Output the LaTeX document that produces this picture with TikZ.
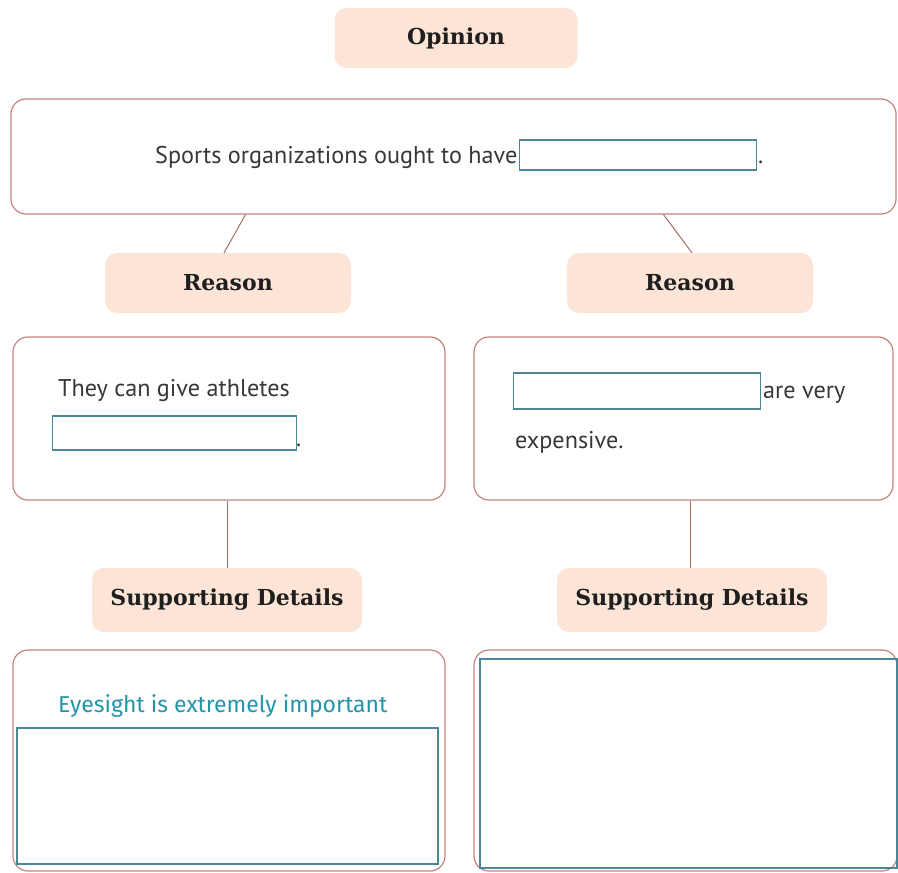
\documentclass[tikz,border=0pt]{standalone}
\usepackage{fontspec}
\setmainfont{PT Sans}
\newfontfamily\headfont{DejaVu Serif}
\newfontfamily\handfont{Fira Sans}
\usepackage{tikz}
\usetikzlibrary{positioning}
\definecolor{peach}{RGB}{252,229,214}
\definecolor{rose}{RGB}{196,130,124}
\definecolor{blankline}{RGB}{74,134,152}
\definecolor{handteal}{RGB}{38,148,168}
\definecolor{inkgray}{RGB}{58,54,54}
\tikzstyle{heading}=[
    fill=peach,rounded corners=12pt,text=black!88,
    font=\headfont\bfseries\fontsize{22}{26}\selectfont,
    minimum height=60pt
    ]
\tikzstyle{frame}=[draw=rose,line width=1.2pt,rounded corners=15pt]
\tikzstyle{blank}=[draw=blankline,line width=1.1pt]
\tikzstyle{link}=[draw=rose!85!black,line width=1pt]
\tikzstyle{txt}=[font=\fontsize{24.2}{29}\selectfont,text=inkgray,inner sep=0pt]

\begin{document}
\begin{tikzpicture}[
x=1pt,y=-1pt
]
\useasboundingbox (0,0) rectangle (898,873);
%opinion
\node[heading,minimum width=243pt] (opinion) at (456,38) {Opinion};
\node[frame,minimum width=885pt,minimum height=115pt] (opbox) at (453.5,156.5) {};
\node[txt,anchor=base west] (optext) at (155,163) {Sports organizations ought to have};
\node[blank,minimum width=237pt,minimum height=30pt,anchor=west] (opblank) at (519,155) {};
\node[txt,anchor=base west] (opdot) at (758,163) {.};
%reasons
\node[heading,minimum width=246pt] (reasonL) at (228,283) {Reason};
\node[heading,minimum width=246pt] (reasonR) at (690,283) {Reason};
\draw[link] ([xshift=-208pt]opbox.south) -- ([xshift=-4pt]reasonL.north);
\draw[link] ([xshift=210pt]opbox.south) -- ([xshift=2pt]reasonR.north);
\node[frame,minimum width=432pt,minimum height=163pt] (reasonboxL) at (229,418.5) {};
\node[frame,minimum width=419pt,minimum height=163pt] (reasonboxR) at (683.5,418.5) {};
%reason 1
\node[txt,anchor=base west] (givetext) at (58,396) {They can give athletes};
\node[blank,minimum width=244pt,minimum height=34pt,anchor=west] (giveblank) at (52,433) {};
\node[txt,anchor=base west] (givedot) at (296,446) {.};
%reason 2
\node[blank,minimum width=247pt,minimum height=36pt,anchor=west] (costblank) at (513,391) {};
\node[txt,anchor=base west] (costtext) at (763,398) {are very};
\node[txt,anchor=base west] (costtext2) at (515,448) {expensive.};
%details
\node[heading,minimum width=270pt,minimum height=64pt] (detailL) at (227,600) {Supporting Details};
\node[heading,minimum width=270pt,minimum height=64pt] (detailR) at (692,600) {Supporting Details};
\draw[link] (reasonboxL.south -| detailL.north) -- (detailL.north);
\draw[link] ([xshift=-2pt]detailR.north |- reasonboxR.south) -- ([xshift=-2pt]detailR.north);
\node[frame,minimum width=432pt,minimum height=221pt] (detailboxL) at (229,760.5) {};
\node[frame,minimum width=423pt,minimum height=221pt] (detailboxR) at (685.5,760.5) {};
\node[txt,anchor=base west,font=\handfont\fontsize{23}{27}\selectfont,text=handteal] (eyetext) at (58,712) {Eyesight is extremely important};
\node[blank,minimum width=421pt,minimum height=136pt] (detailblankL) at (227.5,796) {};
\node[blank,minimum width=417pt,minimum height=209pt] (detailblankR) at (688.5,763.5) {};
\end{tikzpicture}
\end{document}
